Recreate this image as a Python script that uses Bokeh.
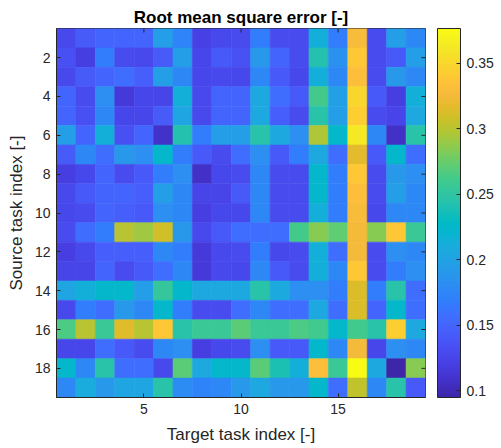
import numpy as np
from bokeh.plotting import figure
from bokeh.models import (LinearColorMapper, ColorBar, FixedTicker,
                          Range1d, ColumnDataSource)
from bokeh.embed import file_html
from bokeh.resources import INLINE

# ---------------- data ----------------
source_task = list(range(1, 20))   # rows (y)
target_task = list(range(1, 20))   # columns (x)
rmse = [
    [.129, .143, .151, .151, .151, .196, .174, .122, .129, .130, .168, .130, .130, .213, .168, .328, .130, .196, .177],
    [.134, .120, .168, .130, .128, .143, .196, .126, .142, .135, .190, .151, .130, .243, .185, .339, .130, .142, .196],
    [.128, .143, .151, .157, .145, .196, .177, .126, .128, .127, .177, .142, .127, .213, .177, .332, .130, .190, .177],
    [.151, .130, .182, .115, .126, .124, .213, .128, .151, .151, .205, .157, .142, .262, .198, .350, .142, .120, .213],
    [.151, .134, .177, .126, .126, .143, .203, .128, .151, .151, .205, .145, .130, .245, .196, .344, .130, .125, .205],
    [.196, .151, .213, .134, .151, .109, .243, .168, .196, .196, .245, .205, .182, .297, .224, .362, .177, .108, .245],
    [.143, .177, .157, .190, .182, .224, .168, .142, .130, .157, .182, .142, .168, .205, .157, .318, .142, .224, .157],
    [.120, .127, .151, .130, .142, .168, .182, .108, .127, .130, .177, .130, .130, .224, .168, .339, .130, .190, .182],
    [.128, .142, .151, .151, .145, .196, .177, .124, .124, .142, .177, .130, .130, .224, .168, .332, .130, .196, .177],
    [.127, .130, .151, .145, .142, .182, .177, .120, .127, .127, .177, .130, .130, .213, .168, .328, .127, .177, .177],
    [.130, .157, .168, .300, .292, .309, .190, .128, .142, .157, .157, .157, .262, .285, .273, .325, .285, .339, .256],
    [.120, .128, .145, .145, .145, .177, .168, .115, .128, .130, .168, .127, .130, .213, .157, .325, .130, .182, .177],
    [.124, .124, .151, .130, .142, .157, .177, .115, .128, .127, .177, .142, .130, .213, .177, .339, .130, .168, .182],
    [.203, .213, .224, .224, .196, .254, .224, .205, .205, .205, .245, .208, .182, .182, .168, .313, .168, .245, .157],
    [.128, .168, .157, .190, .177, .224, .168, .130, .130, .157, .177, .157, .157, .205, .157, .313, .151, .224, .157],
    [.265, .300, .256, .315, .300, .339, .245, .256, .256, .270, .256, .256, .265, .260, .224, .260, .245, .344, .205],
    [.126, .126, .157, .142, .130, .177, .182, .120, .127, .130, .182, .142, .142, .224, .177, .325, .126, .182, .177],
    [.224, .177, .245, .157, .157, .128, .270, .205, .224, .224, .270, .240, .213, .332, .256, .3765, .205, .095, .285],
    [.177, .210, .190, .203, .203, .245, .180, .172, .177, .190, .205, .190, .190, .224, .157, .303, .177, .245, .142],
]
x_ticks = [5, 10, 15]
y_ticks = [2, 4, 6, 8, 10, 12, 14, 16, 18]
cbar_ticks = [0.1, 0.15, 0.2, 0.25, 0.3, 0.35]

# ---------------- parula palette ----------------
_anch = [
    (0.2422, 0.1504, 0.6603), (0.2576, 0.1814, 0.7501), (0.2704, 0.2138, 0.8346),
    (0.2781, 0.2543, 0.8973), (0.2813, 0.2985, 0.9397), (0.2798, 0.3421, 0.9702),
    (0.2710, 0.3860, 0.9898), (0.2473, 0.4319, 0.9983), (0.2006, 0.4803, 0.9906),
    (0.1795, 0.5244, 0.9709), (0.1716, 0.5655, 0.9393), (0.1475, 0.6043, 0.9113),
    (0.1288, 0.6408, 0.8910), (0.1009, 0.6750, 0.8653), (0.0433, 0.7039, 0.8242),
    (0.0018, 0.7275, 0.7752), (0.0770, 0.7468, 0.7224), (0.1609, 0.7635, 0.6671),
    (0.2061, 0.7808, 0.6065), (0.2695, 0.7951, 0.5360), (0.3671, 0.8021, 0.4563),
    (0.4753, 0.8011, 0.3691), (0.5886, 0.7913, 0.2833), (0.6963, 0.7750, 0.2075),
    (0.7945, 0.7554, 0.1570), (0.8804, 0.7372, 0.1650), (0.9523, 0.7284, 0.2237),
    (0.9971, 0.7513, 0.2309), (0.9938, 0.7974, 0.1974), (0.9748, 0.8467, 0.1726),
    (0.9601, 0.8963, 0.1507), (0.9642, 0.9437, 0.1216), (0.9769, 0.9839, 0.0805),
]
_pos = np.array([min(i * 8, 255) for i in range(len(_anch))], dtype=float)
_arr = np.array(_anch)
_idx = np.arange(256)
_r = np.interp(_idx, _pos, _arr[:, 0])
_g = np.interp(_idx, _pos, _arr[:, 1])
_b = np.interp(_idx, _pos, _arr[:, 2])
parula = ["#%02x%02x%02x" % (int(round(r * 255)), int(round(g * 255)), int(round(b * 255)))
          for r, g, b in zip(_r, _g, _b)]

# ---------------- build ----------------
xs, ys, vs = [], [], []
for i, yv in enumerate(source_task):
    for j, xv in enumerate(target_task):
        xs.append(xv)
        ys.append(yv)
        vs.append(rmse[i][j])
src = ColumnDataSource(dict(x=xs, y=ys, v=vs))

mapper = LinearColorMapper(palette=parula, low=min(vs), high=max(vs))

FONT = "Liberation Sans"
TXT = "#262626"

x_lo, x_hi = target_task[0] - 0.5, target_task[-1] + 0.5
y_lo, y_hi = source_task[0] - 0.5, source_task[-1] + 0.5

p = figure(width=501, height=448,
           x_range=Range1d(x_lo, x_hi), y_range=Range1d(y_hi, y_lo),
           output_backend="svg", toolbar_location=None,
           min_border_left=56, min_border_right=76,
           min_border_top=28, min_border_bottom=51,
           title="Root mean square error [-]")
p.title.text_font = FONT
p.title.text_font_size = "17px"
p.title.text_font_style = "bold"
p.title.text_color = "#000000"
p.title.align = "center"
p.title.offset = 0
p.title.standoff = 3

p.rect(x="x", y="y", width=1, height=1, source=src,
       fill_color={"field": "v", "transform": mapper},
       line_color={"field": "v", "transform": mapper}, line_width=0.6)

# inward tick marks on the top and right edges of the box
p.scatter(x=x_ticks, y=[y_lo] * len(x_ticks), marker="dash", size=8,
          angle=np.pi / 2, line_color=TXT, line_width=1)
p.scatter(x=[x_hi] * len(y_ticks), y=y_ticks, marker="dash", size=8,
          line_color=TXT, line_width=1)

p.grid.visible = False
p.outline_line_color = TXT
p.outline_line_width = 1

for ax, ticks, label in ((p.xaxis[0], x_ticks, "Target task index [-]"),
                         (p.yaxis[0], y_ticks, "Source task index [-]")):
    ax.ticker = FixedTicker(ticks=ticks)
    ax.axis_label = label
    ax.axis_label_text_font = FONT
    ax.axis_label_text_font_size = "17px"
    ax.axis_label_text_font_style = "normal"
    ax.axis_label_text_color = TXT
    ax.major_label_text_font = FONT
    ax.major_label_text_font_size = "14px"
    ax.major_label_text_color = TXT
    ax.major_tick_in = 4
    ax.major_tick_out = 0
    ax.minor_tick_line_color = None
    ax.axis_line_color = TXT
    ax.major_tick_line_color = TXT
    ax.major_label_standoff = 6
p.xaxis[0].axis_label_standoff = 8
p.yaxis[0].axis_label_standoff = 6

cb = ColorBar(color_mapper=mapper, ticker=FixedTicker(ticks=cbar_ticks),
              location=(381, 0), width=23, height=369, padding=0, margin=0,
              major_label_text_font=FONT, major_label_text_font_size="14px",
              major_label_text_color=TXT, major_tick_line_color=TXT,
              major_tick_in=4, major_tick_out=0, label_standoff=6,
              bar_line_color=TXT, border_line_color=None,
              background_fill_color=None)
p.add_layout(cb, "center")

open("out.html", "w").write(file_html(p, INLINE))
